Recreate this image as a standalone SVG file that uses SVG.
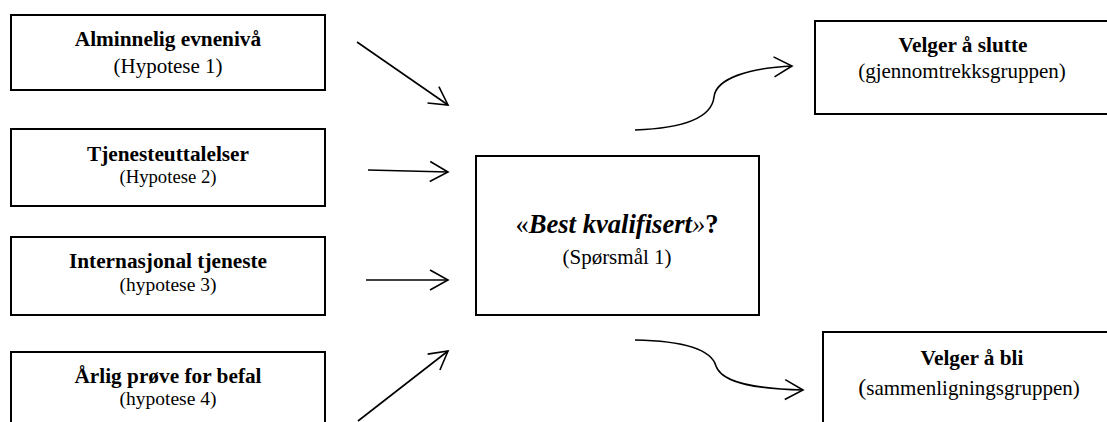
<svg xmlns="http://www.w3.org/2000/svg" width="1107" height="422" viewBox="0 0 1107 422">
<defs>
<style>
.box{fill:#fff;stroke:#000;stroke-width:2}
.t{font-family:"Liberation Serif","Times New Roman",serif;fill:#000;text-anchor:middle}
.b{font-weight:bold;font-size:21.3px}
.s{font-size:21px}
.s2{font-size:18.7px}
.s3{font-size:19.5px}
.c{fill:none;stroke:#000;stroke-width:1.6}
</style>
<marker id="ah" markerUnits="userSpaceOnUse" viewBox="-20 -12 22 24" refX="0" refY="0" markerWidth="22" markerHeight="24" orient="auto" overflow="visible">
<path d="M-18,-10 L0,0 L-18,10" fill="none" stroke="#000" stroke-width="1.6" stroke-linejoin="miter"/>
</marker>
</defs>
<rect width="1107" height="422" fill="#fff"/>
<g id="n1">
<rect class="box" x="11" y="15" width="314" height="75"/>
<text class="t b" x="168" y="46">Alminnelig evnenivå</text>
<text class="t s" x="168" y="73">(Hypotese 1)</text>
</g>
<g id="n2">
<rect class="box" x="11" y="129" width="314" height="77"/>
<text class="t b" x="168" y="161">Tjenesteuttalelser</text>
<text class="t s2" x="168" y="183">(Hypotese 2)</text>
</g>
<g id="n3">
<rect class="box" x="11" y="237" width="314" height="78"/>
<text class="t b" x="168" y="268">Internasjonal tjeneste</text>
<text class="t s3" x="168" y="291">(hypotese 3)</text>
</g>
<g id="n4">
<rect class="box" x="11" y="352" width="314" height="80"/>
<text class="t b" x="168" y="383">Årlig prøve for befal</text>
<text class="t s3" x="168" y="405">(hypotese 4)</text>
</g>
<g id="center">
<rect class="box" x="476" y="156" width="283" height="159"/>
<text class="t" x="617" y="233" font-size="26.6px"><tspan>«</tspan><tspan font-weight="bold" font-style="italic">Best kvalifisert</tspan><tspan font-style="italic">»</tspan><tspan font-weight="bold">?</tspan></text>
<text class="t s" x="617" y="264">(Spørsmål 1)</text>
</g>
<g id="out1">
<rect class="box" x="815" y="21" width="300" height="93"/>
<text class="t b" x="963" y="52">Velger å slutte</text>
<text class="t s" x="962" y="78">(gjennomtrekksgruppen)</text>
</g>
<g id="out2">
<rect class="box" x="823" y="332" width="300" height="100"/>
<text class="t b" x="972" y="365">Velger å bli</text>
<text class="t s" x="969" y="395"><tspan font-size="24px">(</tspan>sammenligningsgruppen)</text>
</g>
<g id="connectors">
<line class="c" x1="357" y1="42" x2="448" y2="105" marker-end="url(#ah)"/>
<line class="c" x1="368" y1="170" x2="448" y2="172" marker-end="url(#ah)"/>
<line class="c" x1="366" y1="280" x2="448" y2="280" marker-end="url(#ah)"/>
<line class="c" x1="358" y1="421" x2="448" y2="351" marker-end="url(#ah)"/>
<path class="c" d="M635,130 C690,128 712,115 714,97 C716,78 750,68 792,66" marker-end="url(#ah)"/>
<path class="c" d="M635,340 C690,341 712,352 716,366 C722,384 760,389 803,390" marker-end="url(#ah)"/>
</g>
</svg>
